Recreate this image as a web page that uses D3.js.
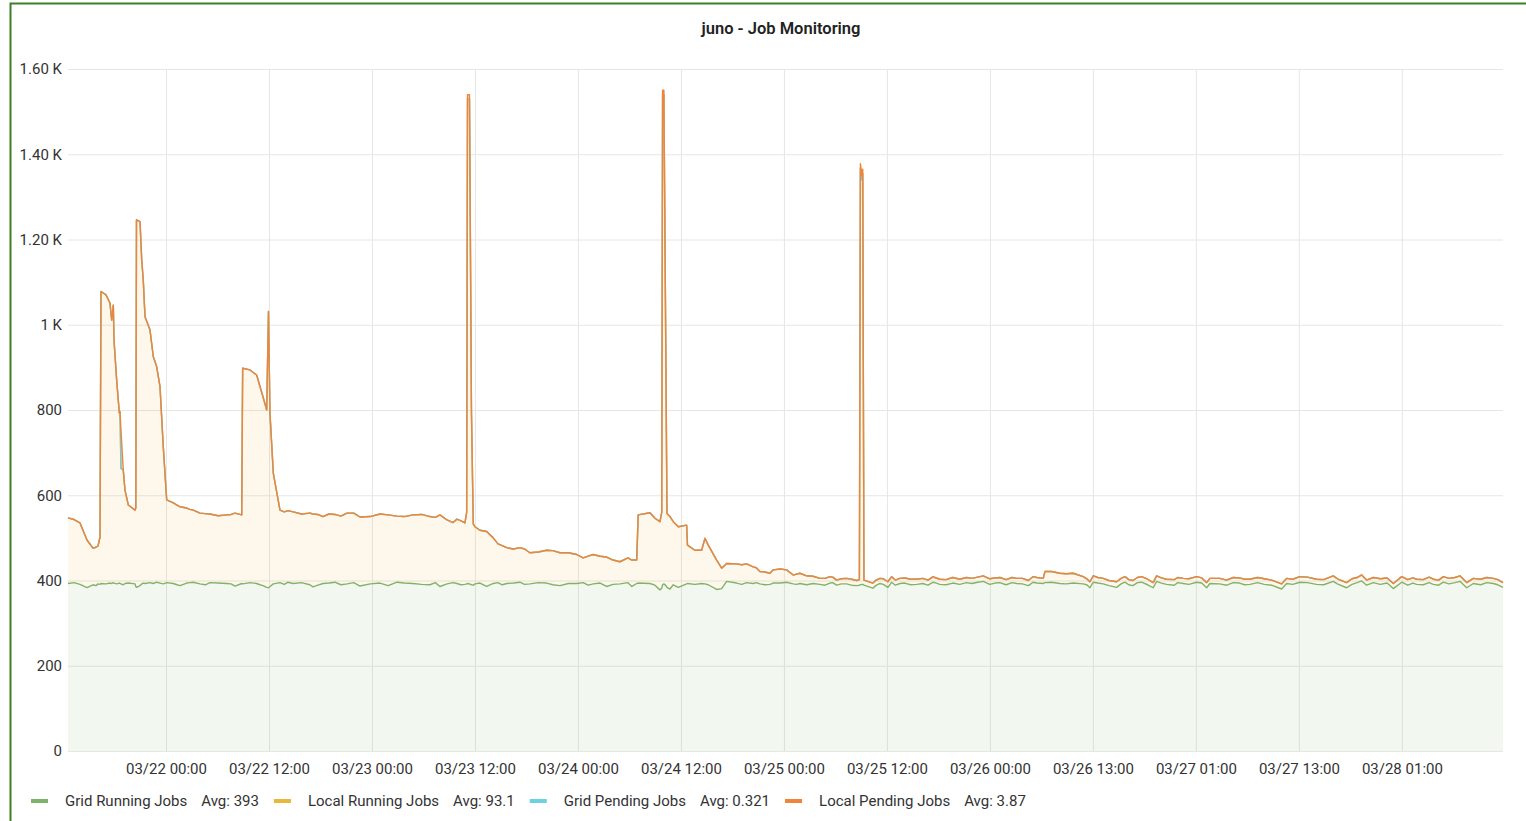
<!DOCTYPE html>
<html>
<head>
<meta charset="utf-8">
<script src="https://cdn.jsdelivr.net/npm/d3@7"></script>
<style>
  body { margin: 0; background: #fff; font-family: Roboto, "Helvetica Neue", Arial, sans-serif; }
</style>
</head>
<body>
<svg id="chart" width="1526" height="821"></svg>
<script>
// time axis: data times are hours after the first sample
var startTime = "2017-03-21T12:35:00+01:00";
var spanHours = 167.2;

var tickTimes = ["2017-03-22T00:00+01:00", "2017-03-22T12:00+01:00", "2017-03-23T00:00+01:00",
  "2017-03-23T12:00+01:00", "2017-03-24T00:00+01:00", "2017-03-24T12:00+01:00",
  "2017-03-25T00:00+01:00", "2017-03-25T12:00+01:00", "2017-03-26T00:00+01:00",
  "2017-03-26T13:00+02:00", "2017-03-27T01:00+02:00", "2017-03-27T13:00+02:00",
  "2017-03-28T01:00+02:00"];
var tickLabels = ["03/22 00:00", "03/22 12:00", "03/23 00:00", "03/23 12:00", "03/24 00:00",
  "03/24 12:00", "03/25 00:00", "03/25 12:00", "03/26 00:00", "03/26 13:00", "03/27 01:00",
  "03/27 13:00", "03/28 01:00"];

var yTicks = [0, 200, 400, 600, 800, 1000, 1200, 1400, 1600];
var yTickLabels = ["0", "200", "400", "600", "800", "1 K", "1.20 K", "1.40 K", "1.60 K"];

var seriesNames = ["Grid Running Jobs", "Local Running Jobs", "Grid Pending Jobs", "Local Pending Jobs"];
var seriesAvgs = ["Avg: 393", "Avg: 93.1", "Avg: 0.321", "Avg: 3.87"];
var seriesColors = ["#7eb26d", "#eab839", "#6ed0e0", "#ef843c"];

// samples are not in order: the later rows fill in detail, rows get sorted by time below
var hours = [
  0.00,0.70,1.40,2.21,2.91,3.26,3.50,3.73,3.84,4.43,
  4.89,5.09,5.28,5.36,5.67,5.98,6.06,6.17,6.44,6.64,
  7.03,7.81,7.90,7.98,8.39,8.59,8.77,8.97,9.55,9.94,
  10.33,10.72,11.10,11.50,12.27,13.05,13.83,14.60,15.38,16.54,
  18.49,19.46,20.24,20.35,21.20,21.98,22.37,22.72,23.15,23.36,
  23.53,23.92,24.70,25.63,26.25,28.19,28.54,29.71,31.11,32.50,
  34.02,36.35,38.33,40.19,42.17,43.34,44.16,44.86,45.32,46.25,
  46.45,46.55,46.78,47.01,47.22,47.42,48.00,48.78,49.55,50.10,
  51.11,52.66,53.82,55.77,57.32,59.27,60.03,61.20,62.76,64.31,
  65.24,66.26,66.44,67.81,68.39,68.97,69.18,69.28,69.43,69.67,
  69.79,70.14,70.52,71.11,72.08,72.18,73.05,73.83,74.22,74.60,
  75.58,76.16,76.74,77.91,79.07,79.84,80.62,81.79,82.17,83.73,
  84.50,85.28,86.06,87.61,88.78,89.56,90.72,91.89,92.21,92.33,
  92.50,92.60,92.74,93.78,94.60,95.53,95.97,96.93,98.88,100.81,
  101.59,104.70,106.64,108.58,110.53,112.43,113.63,113.83,115.57,117.12,
  118.29,119.07,119.46,120.62,122.18,123.15,124.08,125.09,126.44,126.84,
  128.00,129.94,131.50,132.67,133.05,135.77,137.71,140.24,141.40,141.99,
  143.53,145.48,147.42,148.98,150.73,151.31,152.09,154.42,155.40,157.15,
  159.08,160.25,162.19,162.97,163.74,166.07,167.20,
  25.2,27.2,29.1,30.4,31.8,33.3,35.2,37.3,39.2,41.2,
  42.8,45.8,12.7,14.2,16.0,17.5,19.0,50.6,51.9,53.2,
  54.8,56.5,58.3,60.6,62.0,63.5,65.7,78.5,80.2,81.2,
  83.0,84.9,86.8,88.2,89.1,90.1,91.3,94.1,95.0,96.4,
  97.5,98.2,99.6,100.2,101.0,102.3,103.1,103.9,105.3,106.0,
  107.4,108.0,109.3,110.0,111.2,111.9,112.9,114.6,116.3,118.7,
  120.0,121.3,122.7,123.6,124.6,125.8,127.4,128.9,129.3,130.6,
  132.1,134.2,135.0,136.5,137.1,138.6,139.4,142.7,144.4,146.3,
  147.9,149.6,150.2,152.9,153.7,156.1,156.7,157.9,158.6,159.7,
  160.9,161.6,164.6,165.3,166.6];

var gridRunning = [
  393,395,391,383,390,388,392,391,393,392,
  394,393,395,394,392,394,393,392,390,393,
  394,392,386,384,388,392,394,393,395,393,
  396,394,392,395,393,388,394,396,392,395,
  393,387,393,392,395,393,390,388,384,383,
  386,392,395,396,393,390,385,393,396,392,
  387,394,396,393,390,386,392,395,393,391,
  392,393,392,390,389,392,394,386,393,395,
  393,396,392,394,388,393,395,392,386,392,
  395,393,394,393,389,378,382,390,392,388,
  384,380,390,384,392,393,391,393,392,390,
  379,381,398,394,395,393,392,391,394,396,
  392,393,390,391,394,389,392,388,389,390,
  391,391,389,382,393,384,396,393,391,396,
  391,395,398,395,393,396,393,395,393,394,
  392,383,396,392,384,396,388,396,383,398,
  391,393,396,383,393,395,391,389,380,393,
  396,391,398,383,399,389,395,381,396,391,
  391,396,398,383,393,393,384,
  391,395,389,394,390,395,392,388,394,391,
  395,390,390,395,390,394,392,390,394,391,
  395,390,393,389,394,391,386,391,395,390,
  394,391,393,389,395,392,389,388,391,389,
  394,390,393,389,395,390,394,391,393,396,
  391,394,390,395,392,388,394,396,392,390,
  394,388,392,390,395,390,394,389,395,391,
  394,392,389,394,390,395,391,391,395,390,
  392,391,395,391,394,389,394,390,395,389,
  392,395,390,395,390];

var localRunning = [
  154,148,144,112,86,90,89,111,685,678,
  657,618,651,570,478,399,403,271,269,219,
  183,173,184,862,854,760,711,626,593,532,
  506,461,322,194,189,185,176,169,166,161,
  161,171,161,506,499,489,465,443,416,648,
  407,260,170,168,168,168,171,157,159,166,
  162,162,155,161,160,168,150,141,151,144,
  168,1137,1138,400,144,134,124,129,107,91,
  84,81,73,77,77,68,58,69,69,52,
  58,55,160,166,157,160,178,1150,1148,502,
  173,170,148,142,138,90,80,78,107,93,
  69,48,42,45,44,39,29,26,31,29,
  21,24,21,14,15,12,13,12,13,978,
  949,964,12,12,12,13,13,12,12,13,
  12,12,13,12,12,13,12,26,24,23,
  17,14,15,13,13,13,12,13,12,13,
  12,12,13,12,12,12,12,12,12,12,
  13,12,13,12,14,12,12,12,13,12,
  12,13,13,12,12,12,11,
  170,161,166,162,161,163,158,166,156,164,
  153,150,187,172,167,158,163,92,80,83,
  72,80,72,68,63,57,62,46,35,30,
  33,24,17,16,13,12,14,12,13,12,
  12,13,12,12,12,12,13,12,12,12,
  13,12,12,12,13,12,13,25,24,14,
  13,12,13,12,12,13,12,13,12,13,
  12,13,12,12,13,12,13,12,13,12,
  12,13,12,13,12,13,12,12,13,12,
  13,12,13,12,12];

var gridPending = [
  0,0,0,0,0,0,0,0,0,0, 0,0,0,0,0,0,0,0,0,0, 0,0,0,0,0,0,0,0,0,0,
  0,0,0,0,0,0,0,0,0,0, 0,0,0,0,0,0,0,0,0,0, 0,0,0,0,0,0,0,0,0,0,
  0,0,0,0,0,0,0,0,0,0, 0,0,0,0,0,0,0,0,0,0, 0,0,0,0,0,0,0,0,0,0,
  0,0,0,0,0,0,0,0,0,0, 0,0,0,0,0,0,0,0,0,0, 0,0,0,0,0,0,0,0,0,0,
  0,0,0,0,0,0,0,0,0,0, 0,0,0,0,0,0,0,0,0,0, 0,0,0,0,0,0,0,0,0,0,
  0,0,0,0,0,0,0,0,0,0, 0,0,0,0,0,0,0,0,0,0, 0,0,0,0,0,0,0,0,0,0,
  0,0,0,0,0,0,0,
  0,0,0,0,0,0,0,0,0,0, 0,0,0,0,0,0,0,0,0,0, 0,0,0,0,0,0,0,0,0,0,
  0,0,0,0,0,0,0,0,0,0, 0,0,0,0,0,0,0,0,0,0, 0,0,0,0,0,0,0,0,0,0,
  0,0,0,0,0,0,0,0,0,0, 0,0,0,0,0,0,0,0,0,0, 0,0,0,0,0,0,0,0,0,0,
  0,0,0,0,0];

var localPending = [
  0,0,0,0,0,0,0,0,0,0, 0,0,0,0,0,0,0,90,0,0, 0,0,0,0,0,0,0,0,0,0,
  0,0,0,0,0,0,0,0,0,0, 0,0,0,0,0,0,0,0,0,0, 0,0,0,0,0,0,0,0,0,0,
  0,0,0,0,0,0,0,0,0,0, 0,10,10,10,0,0,0,0,0,0, 0,0,0,0,0,0,0,0,0,0,
  0,0,0,0,0,0,0,10,10,10, 0,0,0,0,0,0,0,0,0,0, 0,0,0,0,0,0,0,0,0,0,
  0,0,0,0,0,0,0,0,0,10, 10,10,0,0,0,0,0,0,0,0, 0,0,0,0,0,0,0,0,0,0,
  0,0,0,0,0,0,0,0,0,0, 0,0,0,0,0,0,0,0,0,0, 0,0,0,0,0,0,0,0,0,0,
  0,0,0,0,0,0,0,
  0,0,0,0,0,0,0,0,0,0, 0,0,0,0,0,0,0,0,0,0, 0,0,0,0,0,0,0,0,0,0,
  0,0,0,0,0,0,0,0,0,0, 0,0,0,0,0,0,0,0,0,0, 0,0,0,0,0,0,0,0,0,0,
  0,0,0,0,0,0,0,0,0,0, 0,0,0,0,0,0,0,0,0,0, 0,0,0,0,0,0,0,0,0,0,
  0,0,0,0,0];

var svg = d3.select("#chart");
var W = 1526, H = 821;
var plot = { left: 68, right: 1503, top: 69, bottom: 751 };

var t0 = new Date(startTime);
var keys = ["grid", "local", "gpend", "lpend"];
var rows = hours.map(function(h, i) {
  return { t: new Date(+t0 + h * 3600e3), grid: gridRunning[i], local: localRunning[i],
           gpend: gridPending[i], lpend: localPending[i] };
}).sort(function(a, b) { return a.t - b.t; });

var x = d3.scaleTime()
  .domain([t0, new Date(+t0 + spanHours * 3600e3)])
  .range([plot.left, plot.right]);
var y = d3.scaleLinear().domain([0, 1600]).range([plot.bottom, plot.top]);

// panel frame
svg.append("rect").attr("width", W).attr("height", H).attr("fill", "#fff");
svg.append("path")
  .attr("d", "M10.5," + H + "V3.5H" + W)
  .attr("fill", "none").attr("stroke", "#3d7f25").attr("stroke-width", 2);

svg.append("text")
  .attr("x", 781).attr("y", 34)
  .attr("text-anchor", "middle")
  .attr("font-size", 16.5).attr("font-weight", 600).attr("fill", "#222")
  .text("juno - Job Monitoring");

// grid + axes
var yAxis = svg.append("g")
  .attr("transform", "translate(" + plot.left + ",0)")
  .call(d3.axisLeft(y).tickValues(yTicks)
    .tickFormat(function(d, i) { return yTickLabels[i]; })
    .tickSize(-(plot.right - plot.left)).tickPadding(6));

var xAxis = svg.append("g")
  .attr("transform", "translate(0," + plot.bottom + ")")
  .call(d3.axisBottom(x).tickValues(tickTimes.map(function(s) { return new Date(s); }))
    .tickFormat(function(d, i) { return tickLabels[i]; })
    .tickSize(-(plot.bottom - plot.top)).tickPadding(12));

[yAxis, xAxis].forEach(function(g) {
  g.select(".domain").remove();
  g.selectAll(".tick line").attr("stroke", "#e6e6e6").attr("stroke-width", 1);
  g.selectAll(".tick text").attr("font-size", 15).attr("fill", "#333")
    .attr("font-family", "Roboto, Arial, sans-serif");
});

// stacked series
var stacked = d3.stack().keys(keys)(rows);

var area = d3.area()
  .x(function(d) { return x(d.data.t); })
  .y0(function(d) { return y(d[0]); })
  .y1(function(d) { return y(d[1]); });
var line = d3.line()
  .x(function(d) { return x(d.data.t); })
  .y(function(d) { return y(d[1]); });

stacked.forEach(function(layer, i) {
  svg.append("path").datum(layer)
    .attr("d", area).attr("fill", seriesColors[i]).attr("fill-opacity", 0.1);
  svg.append("path").datum(layer)
    .attr("d", line).attr("fill", "none")
    .attr("stroke", seriesColors[i]).attr("stroke-width", 1.4)
    .attr("stroke-linejoin", "round");
});

// legend
var legend = svg.append("g").attr("font-size", 15).attr("fill", "#333");
var lx = 31;
seriesNames.forEach(function(name, i) {
  legend.append("rect")
    .attr("x", lx).attr("y", 799).attr("width", 17).attr("height", 4)
    .attr("fill", seriesColors[i]);
  lx += 34;
  var t1 = legend.append("text").attr("x", lx).attr("y", 806).text(name);
  lx += t1.node().getComputedTextLength() + 14;
  var t2 = legend.append("text").attr("x", lx).attr("y", 806).text(seriesAvgs[i]);
  lx += t2.node().getComputedTextLength() + 15;
});
</script>
</body>
</html>
